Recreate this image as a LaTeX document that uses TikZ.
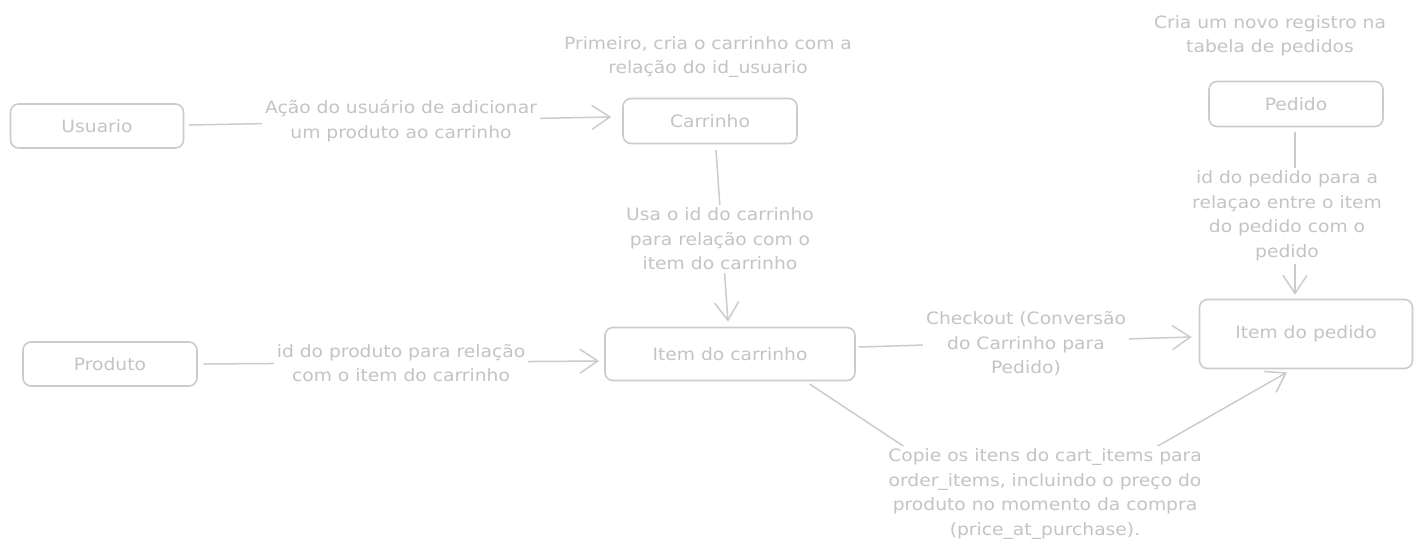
\documentclass[tikz,border=0pt]{standalone}
\usepackage{fontspec}
\setmainfont{DejaVu Sans}[FakeStretch=1.1]
\usetikzlibrary{arrows.meta,calc}

\definecolor{lightline}{gray}{0.80}
\definecolor{lighttext}{gray}{0.77}

\tikzset{
  entity/.style={draw=lightline, line width=1.6pt, rounded corners=8pt, text=lighttext,
    font=\fontsize{17}{24}\selectfont, inner sep=0pt},
  relarrow/.style={draw=lightline, line width=1.5pt, line cap=round,
    -{Straight Barb[length=18pt,width=24pt,line width=1.5pt]}},
  rellabel/.style={fill=white, text=lighttext, align=center, inner sep=3pt,
    font=\fontsize{17}{24.5}\selectfont},
}

\begin{document}
\begin{tikzpicture}[x=1pt,y=-1pt]
    \useasboundingbox[fill=white] (0,0) rectangle (1422,554);
    % entities
    \node[entity, minimum width=173pt, minimum height=44pt] (usr) at (97,126) {Usuario};
    \node[entity, minimum width=174pt, minimum height=45pt] (car) at (710,121) {Carrinho};
    \node[entity, minimum width=174pt, minimum height=45pt] (ped) at (1296,104) {Pedido};
    \node[entity, minimum width=174pt, minimum height=44pt] (prd) at (110,364) {Produto};
    \node[entity, minimum width=250pt, minimum height=53pt] (icar) at (730,354) {Item do carrinho};
    \node[entity, minimum width=213pt, minimum height=69pt] (iped) at (1306,334) {Item do pedido};
    % notes
    \node[rellabel] (carnote) at (708,57) {Primeiro, cria o carrinho com a\\relação do id\_usuario};
    \node[rellabel] (pednote) at (1270,36) {Cria um novo registro na\\tabela de pedidos};
    % relations
    \coordinate (bend) at (1021,524);
    \draw[relarrow] ($(usr.east)+(5,-1)$) -- ($(car.west)+(-11,-4)$);
    \draw[relarrow] ($(car.south)+(6,6)$) -- ($(icar.north)+(-2,-5)$);
    \draw[relarrow] ($(prd.east)+(6,0)$) -- ($(icar.west)+(-5,7)$);
    \draw[relarrow] ($(icar.east)+(3,-7)$) -- ($(iped.west)+(-7,3)$);
    \draw[relarrow] ($(ped.south)+(-1,5)$) -- ($(iped.north)+(-11,-4)$);
    \draw[relarrow] ($(icar.south)+(80,3)$) -- (bend) -- ($(iped.south)+(-19,3)$);
    % labels
    \node[rellabel] (usrcar) at (401,121) {Ação do usuário de adicionar\\um produto ao carrinho};
    \node[rellabel] (caricar) at (720,239) {Usa o id do carrinho\\para relação com o\\item do carrinho};
    \node[rellabel] (prdicar) at (401,363) {id do produto para relação\\com o item do carrinho};
    \node[rellabel] (checkout) at (1026,344) {Checkout (Conversão\\do Carrinho para\\Pedido)};
    \node[rellabel] (pediped) at (1287,216) {id do pedido para a\\relaçao entre o item\\do pedido com o\\pedido};
    \node[rellabel] (copy) at (1045,494) {Copie os itens do cart\_items para\\order\_items, incluindo o preço do\\produto no momento da compra\\(price\_at\_purchase).};
\end{tikzpicture}
\end{document}
